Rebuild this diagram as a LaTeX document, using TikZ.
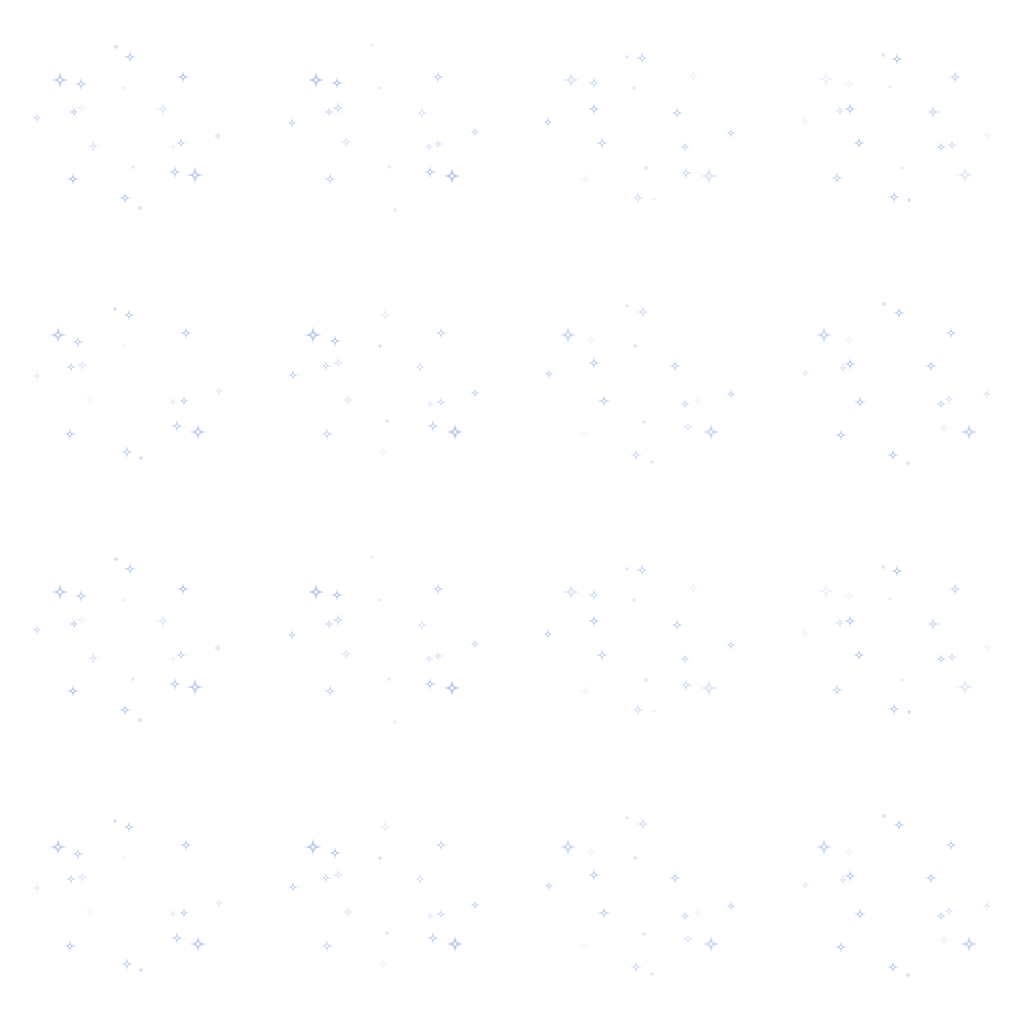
\documentclass[tikz,border=0pt]{standalone}
\usepackage{tikz}

\definecolor{starblue}{RGB}{165,190,236}

% one four-pointed sparkle: x, y, arm length, opacity
\newcommand\sparkle[4]{%
  \begin{scope}[shift={({#1},{#2})}]
    \pgfmathsetmacro\glowop{0.35*#4}
    \fill[starblue, opacity=\glowop] (0,{-1.4*#3}) .. controls ({.22*#3},{-.22*#3}) .. ({1.4*#3},0)
       .. controls ({.22*#3},{.22*#3}) .. (0,{1.4*#3}) .. controls ({-.22*#3},{.22*#3}) .. ({-1.4*#3},0)
       .. controls ({-.22*#3},{-.22*#3}) .. cycle;
    \fill[starblue, opacity=#4] (0,{-#3}) .. controls ({.16*#3},{-.16*#3}) .. ({#3},0)
       .. controls ({.16*#3},{.16*#3}) .. (0,{#3}) .. controls ({-.16*#3},{.16*#3}) .. ({-#3},0)
       .. controls ({-.16*#3},{-.16*#3}) .. cycle;
    \fill[white] (0,0) circle[radius={.26*#3}];
  \end{scope}}

\begin{document}
\begin{tikzpicture}[x=0.025cm,y=-0.025cm]

% the page
\fill[white] (0,0) rectangle (1024,1024);
\useasboundingbox (0,0) rectangle (1024,1024);

% first and third row of tiles
\foreach \dy in {0,512} {
  \begin{scope}[shift={(0,\dy)}]
  \foreach \x/\y/\r/\o in {116/47/2/.5, 130/57/5/.7, 60/80/7/.7, 81/84/5/.7, 183/77/5/.8, 123/88/2/.2,
      74/112/4/.7, 37/118/4/.5, 163/109/5/.35, 82/108/5/.15, 93/146/5/.35, 181/143/4/.7, 218/136/4/.4,
      173/147/4/.15, 133/167/2/.3, 175/172/5/.7, 195/175/7/.7, 73/179/5/.8, 125/198/5/.7, 140/208/2/.5}
    \sparkle{\x}{\y}{\r}{\o};
  \end{scope}
  \begin{scope}[shift={(256,\dy)}]
  \foreach \x/\y/\r/\o in {60/80/7/.8, 81/83/5/.8, 182/77/5/.6, 116/45/2/.15, 123/88/2/.25, 73/112/4/.55,
      82/108/5/.5, 36/123/4/.65, 166/113/5/.25, 90/142/5/.3, 219/132/4/.55, 182/144/4/.5, 173/147/4/.35,
      133/167/2/.25, 174/172/5/.75, 196/176/7/.85, 74/179/5/.55, 139/210/2/.2}
    \sparkle{\x}{\y}{\r}{\o};
  \end{scope}
  \begin{scope}[shift={(512,\dy)}]
  \foreach \x/\y/\r/\o in {115/57/2/.3, 130/58/5/.55, 59/80/7/.35, 82/83/5/.5, 122/88/2/.4, 181/76/5/.15,
      82/109/5/.7, 36/122/4/.7, 165/113/5/.6, 90/143/5/.6, 219/133/4/.65, 173/147/4/.6, 134/168/2/.4,
      174/173/5/.5, 197/176/7/.4, 74/179/5/.15, 126/198/5/.4, 142/199/2/.2}
    \sparkle{\x}{\y}{\r}{\o};
  \end{scope}
  \begin{scope}[shift={(768,\dy)}]
  \foreach \x/\y/\r/\o in {58/79/7/.15, 81/84/5/.1, 82/109/5/.7, 72/111/4/.45, 115/55/2/.4, 129/59/5/.7,
      187/77/5/.6, 122/87/2/.2, 165/112/5/.6, 37/121/4/.15, 91/143/5/.65, 219/135/4/.15, 173/147/4/.7,
      184/145/4/.5, 134/168/2/.25, 197/175/7/.3, 69/178/5/.55, 126/197/5/.65, 141/200/2/.5}
    \sparkle{\x}{\y}{\r}{\o};
  \end{scope}
}

% second and fourth row of tiles
\foreach \dy in {256,768} {
  \begin{scope}[shift={(0,\dy)}]
  \foreach \x/\y/\r/\o in {115/53/2/.5, 129/59/5/.6, 58/79/7/.7, 78/86/5/.6, 186/77/5/.7, 124/90/2/.1,
      71/111/4/.6, 82/109/5/.3, 37/120/4/.3, 90/143/5/.08, 219/135/4/.3, 173/146/4/.25, 184/145/4/.7,
      177/170/5/.6, 198/176/7/.7, 70/178/5/.7, 127/196/5/.6, 141/202/2/.5}
    \sparkle{\x}{\y}{\r}{\o};
  \end{scope}
  \begin{scope}[shift={(256,\dy)}]
  \foreach \x/\y/\r/\o in {129/59/5/.2, 57/79/7/.8, 79/85/5/.7, 124/90/2/.4, 185/77/5/.5, 70/110/4/.55,
      82/107/5/.3, 37/119/4/.7, 164/111/5/.35, 92/144/5/.35, 219/137/4/.6, 174/148/4/.3, 185/146/4/.55,
      131/165/2/.35, 177/170/5/.6, 199/176/7/.8, 71/178/5/.5, 127/196/5/.15}
    \sparkle{\x}{\y}{\r}{\o};
  \end{scope}
  \begin{scope}[shift={(512,\dy)}]
  \foreach \x/\y/\r/\o in {115/50/2/.3, 131/56/5/.45, 56/79/7/.6, 79/84/5/.15, 123/90/2/.4, 82/107/5/.65,
      37/118/4/.6, 163/110/5/.6, 92/145/5/.65, 219/138/4/.6, 173/148/4/.6, 186/145/4/.15, 132/166/2/.35,
      176/171/5/.3, 199/176/7/.6, 72/178/5/.1, 124/199/5/.45, 140/206/2/.3}
    \sparkle{\x}{\y}{\r}{\o};
  \end{scope}
  \begin{scope}[shift={(768,\dy)}]
  \foreach \x/\y/\r/\o in {116/48/2/.45, 131/57/5/.7, 56/79/7/.6, 81/84/5/.15, 183/77/5/.6, 82/108/5/.7,
      75/112/4/.4, 37/117/4/.3, 163/110/5/.7, 92/146/5/.65, 219/138/4/.35, 173/148/4/.65, 181/143/4/.4,
      176/172/5/.15, 201/176/7/.65, 73/179/5/.65, 125/199/5/.65, 140/207/2/.45}
    \sparkle{\x}{\y}{\r}{\o};
  \end{scope}
}

\end{tikzpicture}
\end{document}
